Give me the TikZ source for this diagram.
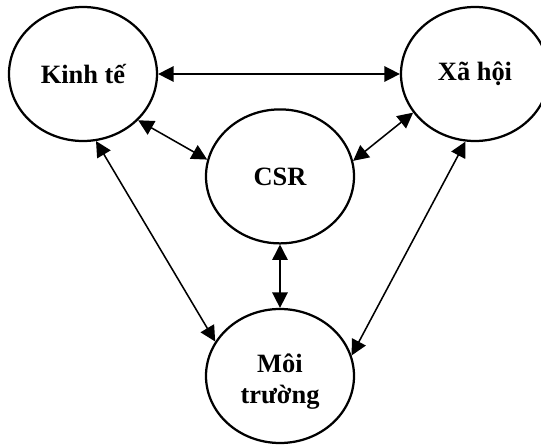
\documentclass[tikz,border=0pt]{standalone}
\usepackage{fontspec}
\setmainfont{Liberation Serif}
\usetikzlibrary{shapes.geometric,arrows.meta}

\begin{document}
\begin{tikzpicture}[
    caption/.style = {align=center, font=\fontsize{18.8}{22.5}\selectfont\bfseries},
    pillar/.style = {draw, ellipse, line width=1.6pt, minimum width=3.7cm,
        minimum height=3.35cm, inner sep=0pt, caption},
    link/.style = {{Triangle[length=11pt,width=11pt]}-{Triangle[length=11pt,width=11pt]},
        line width=1.1pt}
]
    \useasboundingbox (0,0) rectangle (13.525,-11.175);

    % the three pillars and CSR in the middle
    \node[pillar] (kinhte) at (2.075,-1.85) {Kinh tế};
    \node[pillar] (xahoi) at (11.875,-1.85) {Xã hội};
    \node[pillar] (csr) at (7,-4.41) {CSR};
    \node[pillar, label={[caption, yshift=-0.14cm]center:Môi\\trường}] (moitruong) at (7,-9.4) {};

    % two-way links
    \draw[link] (kinhte.east) -- (xahoi.west);
    \draw[link] (kinhte.-40) -- (csr.167);
    \draw[link] (xahoi.212) -- (csr.12);
    \draw[link] (kinhte.-79) -- (moitruong.152);
    \draw[link] (xahoi.-98) -- (moitruong.16);
    \draw[link] (csr.south) -- (moitruong.north);
\end{tikzpicture}
\end{document}
